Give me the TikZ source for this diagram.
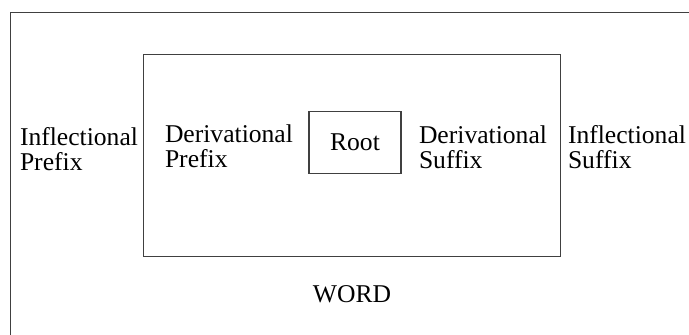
\documentclass[tikz,border=0pt]{standalone}
\usepackage{fontspec}
\setmainfont{Liberation Serif}
\begin{document}
\begin{tikzpicture}[x=0.5pt,y=-0.5pt,
  boxline/.style={draw=black!75,line width=0.55pt},
  lbl/.style={inner sep=0pt,outer sep=0pt,align=left,anchor=north west,
    font=\fontsize{12.8}{12.5}\selectfont},
  txt/.style={inner sep=0pt,outer sep=0pt,font=\fontsize{12.8}{12.5}\selectfont}]
\useasboundingbox (0,0) rectangle (689,334);
\clip (0,0) rectangle (689,334);
% outer WORD box (extends past right and bottom edges)
\node[boxline,rectangle,inner sep=0pt,minimum width=355pt,minimum height=175pt,anchor=north west] (outer) at (10,11.5) {};
% inner box
\node[boxline,rectangle,inner sep=0pt,minimum width=208.25pt,minimum height=101pt,anchor=north west] (inner) at (143,53.5) {};
% root box
\node[boxline,rectangle,txt,minimum width=46pt,minimum height=31pt] (root) at (355,142.5) {Root};
% labels
\node[lbl] (ip) at (20,127.5) {Inflectional\\Prefix};
\node[lbl] (dp) at (165,124.5) {Derivational\\Prefix};
\node[lbl] (ds) at (419,125.5) {Derivational\\Suffix};
\node[lbl] (is) at (568,125.5) {Inflectional\\Suffix};
\node[txt,anchor=base] (word) at (352,302) {WORD};
\end{tikzpicture}
\end{document}
